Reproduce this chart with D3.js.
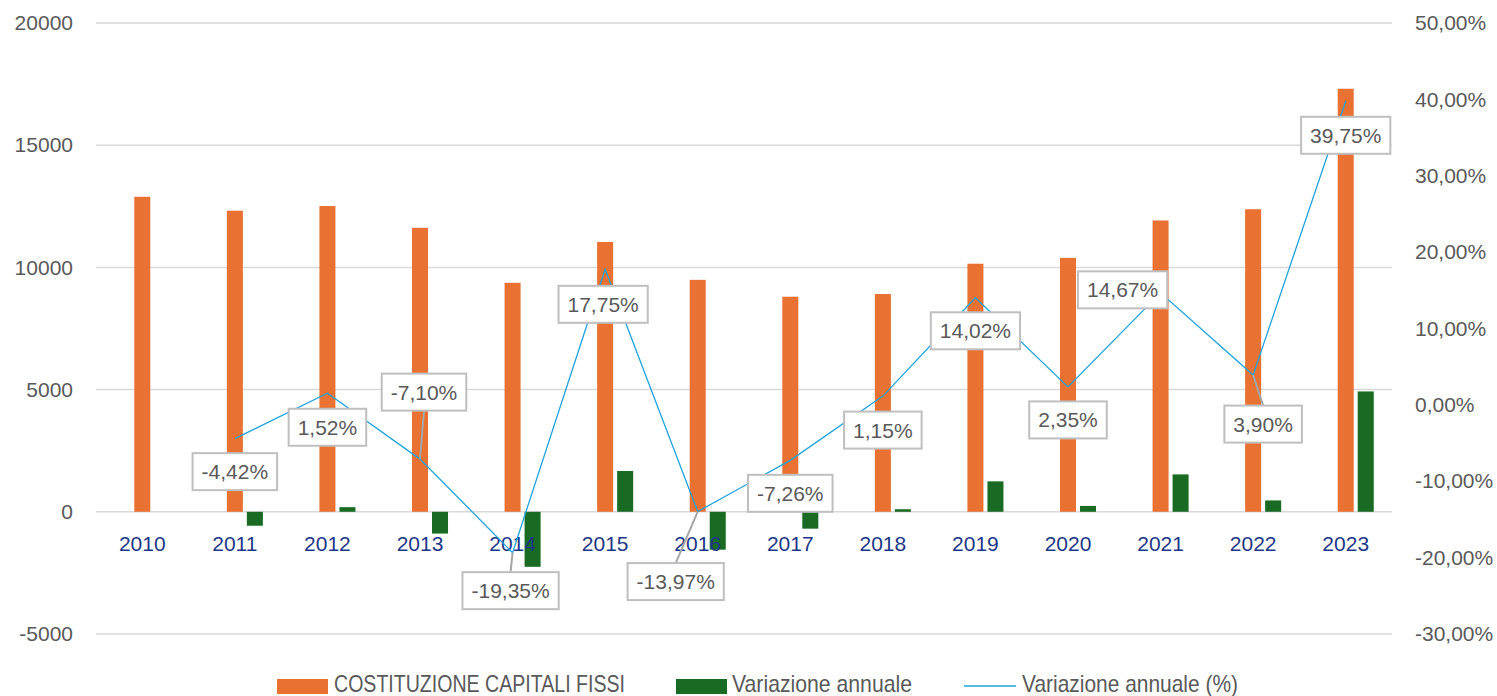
<!DOCTYPE html>
<html>
<head>
<meta charset="utf-8">
<script src="https://cdn.jsdelivr.net/npm/d3@7"></script>
<style>
  body { margin: 0; background: #ffffff; }
  text { font-family: "Liberation Sans", Arial, sans-serif; }
</style>
</head>
<body>
<div id="chart"></div>
<script>
// Data
var years = ["2010", "2011", "2012", "2013", "2014", "2015", "2016", "2017", "2018", "2019", "2020", "2021", "2022", "2023"];
var capitaliFissi = [12890, 12320, 12510, 11620, 9370, 11040, 9490, 8800, 8910, 10150, 10390, 11920, 12380, 17310];
var variazione = [null, -570, 190, -890, -2250, 1670, -1550, -690, 105, 1245, 240, 1530, 465, 4925];
var variazionePct = [null, -4.42, 1.52, -7.10, -19.35, 17.75, -13.97, -7.26, 1.15, 14.02, 2.35, 14.67, 3.90, 39.75];
var leftTicks = [-5000, 0, 5000, 10000, 15000, 20000];
var rightTicks = [-30, -20, -10, 0, 10, 20, 30, 40, 50];

// Label placement (box centre offset from the point), as laid out in the source
var labelOffsets = [null, [0, 33], [0, 34], [4, -67], [-2, 38], [-2, 35], [-22, 70], [0, 33], [0, 34], [0, 33], [0, 33], [-38, -3], [10, 49], [0, 34]];
var labelLeader = [false, false, false, true, true, false, true, false, false, false, false, false, true, false];

var width = 1497, height = 696;
var plotLeft = 96, plotRight = 1392, plotTop = 23, plotBottom = 634;

// Italian style percent: comma decimal, plain hyphen for minus
function pct(d) {
  return d3.format(".2f")(d).replace(".", ",").replace("\u2212", "-") + "%";
}

var svg = d3.select("#chart")
  .append("svg")
    .attr("width", width)
    .attr("height", height);

var x = d3.scaleBand()
    .domain(years)
    .range([plotLeft, plotRight]);

var y = d3.scaleLinear()
    .domain([-5000, 20000])
    .range([plotBottom, plotTop]);

var y2 = d3.scaleLinear()
    .domain([-30, 50])
    .range([plotBottom, plotTop]);

// Gridlines
svg.append("g")
  .selectAll("line")
  .data(leftTicks)
  .enter()
  .append("line")
    .attr("x1", plotLeft)
    .attr("x2", plotRight)
    .attr("y1", function(d) { return y(d); })
    .attr("y2", function(d) { return y(d); })
    .attr("stroke", "#d9d9d9")
    .attr("stroke-width", 1.5);

// Left axis
var leftAxis = svg.append("g")
    .attr("transform", "translate(" + (plotLeft - 23) + ",0)")
    .call(d3.axisLeft(y).tickValues(leftTicks).tickSize(0).tickPadding(0)
      .tickFormat(function(d) { return String(d); }));
leftAxis.select(".domain").remove();
leftAxis.selectAll("text")
    .attr("fill", "#595959")
    .style("font-size", "21px")
    .style("font-family", "'Liberation Sans', Arial, sans-serif");

// Right axis
var rightAxis = svg.append("g")
    .attr("transform", "translate(" + (plotRight + 23) + ",0)")
    .call(d3.axisRight(y2).tickValues(rightTicks).tickSize(0).tickPadding(0).tickFormat(pct));
rightAxis.select(".domain").remove();
rightAxis.selectAll("text")
    .attr("fill", "#595959")
    .style("font-size", "21px")
    .style("font-family", "'Liberation Sans', Arial, sans-serif");

// Orange bars
var barW = x.bandwidth() * 0.173;
svg.append("g")
  .selectAll("rect")
  .data(capitaliFissi)
  .enter()
  .append("rect")
    .attr("x", function(d, i) { return x(years[i]) + x.bandwidth() / 2 - barW / 2; })
    .attr("y", function(d) { return y(d); })
    .attr("width", barW)
    .attr("height", function(d) { return y(0) - y(d); })
    .attr("fill", "#e97132");

// Green bars
var greenData = variazione.map(function(d, i) { return {year: years[i], v: d}; })
  .filter(function(d) { return d.v !== null; });
svg.append("g")
  .selectAll("rect")
  .data(greenData)
  .enter()
  .append("rect")
    .attr("x", function(d) { return x(d.year) + x.bandwidth() / 2 + barW * 0.75; })
    .attr("y", function(d) { return y(Math.max(0, d.v)); })
    .attr("width", barW)
    .attr("height", function(d) { return Math.abs(y(0) - y(d.v)); })
    .attr("fill", "#196b24");

// X axis labels
svg.append("g")
  .selectAll("text")
  .data(years)
  .enter()
  .append("text")
    .attr("x", function(d) { return x(d) + x.bandwidth() / 2; })
    .attr("y", 551)
    .attr("text-anchor", "middle")
    .attr("fill", "#1c3787")
    .style("font-size", "21px")
    .text(function(d) { return d; });

// Line
var pctData = variazionePct.map(function(d, i) { return {year: years[i], v: d, i: i}; })
  .filter(function(d) { return d.v !== null; });

var line = d3.line()
    .x(function(d) { return x(d.year) + x.bandwidth() / 2; })
    .y(function(d) { return y2(d.v); });

svg.append("path")
    .datum(pctData)
    .attr("d", line)
    .attr("fill", "none")
    .attr("stroke", "#1fa3dd")
    .attr("stroke-width", 1.3);

// Data labels
var labels = svg.append("g");
pctData.forEach(function(d) {
  var px = x(d.year) + x.bandwidth() / 2;
  var py = y2(d.v);
  var off = labelOffsets[d.i];
  var cx = px + off[0], cy = py + off[1];
  var g = labels.append("g");
  var t = g.append("text")
      .attr("x", cx)
      .attr("y", cy + 7.5)
      .attr("text-anchor", "middle")
      .attr("fill", "#595959")
      .style("font-size", "21px")
      .text(pct(d.v));
  var tw = t.node().getComputedTextLength();
  var bw = tw + 18, bh = 37;
  if (labelLeader[d.i]) {
    var ey = off[1] > 0 ? cy - bh / 2 : cy + bh / 2;
    g.insert("line", "text")
        .attr("x1", cx)
        .attr("y1", ey)
        .attr("x2", px)
        .attr("y2", py)
        .attr("stroke", "#a6a6a6")
        .attr("stroke-width", 2);
  }
  g.insert("rect", "text")
      .attr("x", cx - bw / 2)
      .attr("y", cy - bh / 2)
      .attr("width", bw)
      .attr("height", bh)
      .attr("fill", "#ffffff")
      .attr("stroke", "#bfbfbf")
      .attr("stroke-width", 2);
});

// Legend
var legend = svg.append("g");
legend.append("rect").attr("x", 277).attr("y", 679).attr("width", 51).attr("height", 15).attr("fill", "#e97132");
legend.append("text").attr("x", 334).attr("y", 692)
    .attr("fill", "#595959").style("font-size", "24px")
    .attr("textLength", 291).attr("lengthAdjust", "spacingAndGlyphs")
    .text("COSTITUZIONE CAPITALI FISSI");
legend.append("rect").attr("x", 676).attr("y", 679).attr("width", 51).attr("height", 15).attr("fill", "#196b24");
legend.append("text").attr("x", 732).attr("y", 692)
    .attr("fill", "#595959").style("font-size", "24px")
    .attr("textLength", 180).attr("lengthAdjust", "spacingAndGlyphs")
    .text("Variazione annuale");
legend.append("line").attr("x1", 964).attr("x2", 1016).attr("y1", 686).attr("y2", 686)
    .attr("stroke", "#1fa3dd").attr("stroke-width", 1.3);
legend.append("text").attr("x", 1022).attr("y", 692)
    .attr("fill", "#595959").style("font-size", "24px")
    .attr("textLength", 216).attr("lengthAdjust", "spacingAndGlyphs")
    .text("Variazione annuale (%)");
</script>
</body>
</html>
